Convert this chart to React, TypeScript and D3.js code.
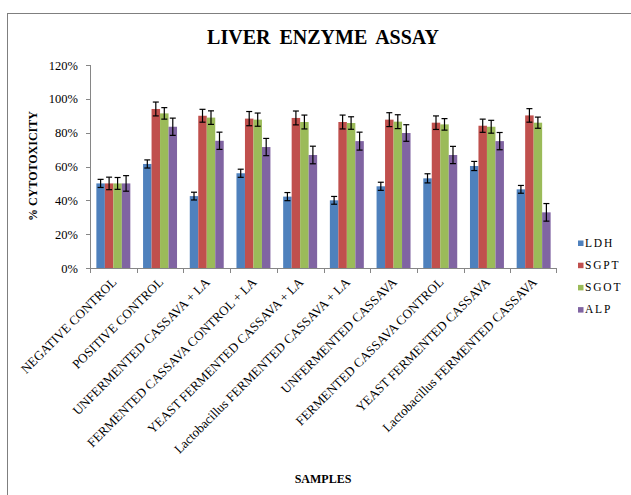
import React from "react";
import * as d3 from "d3";

const categories = [
  "NEGATIVE CONTROL",
  "POSITIVE CONTROL",
  "UNFERMENTED CASSAVA + LA",
  "FERMENTED CASSAVA CONTROL + LA",
  "YEAST FERMENTED CASSAVA + LA",
  "Lactobacillus FERMENTED CASSAVA + LA",
  "UNFERMENTED CASSAVA",
  "FERMENTED CASSAVA CONTROL",
  "YEAST FERMENTED CASSAVA",
  "Lactobacillus FERMENTED CASSAVA",
];

const seriesNames = ["LDH", "SGPT", "SGOT", "ALP"];
const seriesColors = ["#4F81BD", "#C0504D", "#9BBB59", "#8064A2"];

const LDH = [50, 61.5, 42.5, 56, 42.2, 40, 48.3, 53, 60.3, 46.5];
const SGPT = [50, 94, 90, 88.3, 88.7, 86.3, 87.7, 85.9, 84.1, 90.2];
const SGOT = [50, 91.4, 88.9, 87.7, 86.3, 85.7, 86.5, 84.9, 83.5, 85.9];
const ALP = [50, 83.5, 75.2, 71.5, 66.8, 75, 79.8, 66.8, 75, 32.9];

const LDH_err = [2.4, 2.4, 2.3, 2.4, 2.4, 2.3, 2.4, 2.7, 2.7, 2.3];
const SGPT_err = [3.7, 4.1, 3.8, 4.2, 4.1, 4.1, 4.1, 4.0, 3.9, 4.0];
const SGOT_err = [3.5, 3.4, 4.0, 3.9, 4.1, 3.7, 4.1, 3.4, 3.8, 3.3];
const ALP_err = [4.6, 5.1, 5.1, 5.1, 5.2, 5.3, 4.9, 5.1, 5.1, 5.2];

const yTicks = [0, 20, 40, 60, 80, 100, 120];

const seriesValues = [LDH, SGPT, SGOT, ALP];
const seriesErrors = [LDH_err, SGPT_err, SGOT_err, ALP_err];

const FONT = "'Liberation Serif', 'Times New Roman', serif";

export default function App() {
  const left = 90;
  const right = 557;
  const top = 65;
  const bottom = 268;

  const x = d3.scaleBand<string>().domain(categories).range([left, right]).padding(0);
  const step = x.bandwidth();
  const groupW = (step * 4) / 5.5;
  const xs = d3
    .scaleBand<string>()
    .domain(seriesNames)
    .range([(step - groupW) / 2, (step + groupW) / 2])
    .padding(0);
  const y = d3.scaleLinear().domain([0, 120]).range([bottom, top]);
  const axisColor = "#868686";

  return (
    <svg
      width={631}
      height={495}
      style={{ position: "absolute", left: 0, top: 0, background: "#fff" }}
      fontFamily={FONT}
    >
      <rect x={7.5} y={13.5} width={700} height={600} fill="#fff" stroke="#7f7f7f" strokeWidth={1} />

      <text
        x={323}
        y={44}
        textAnchor="middle"
        fontSize={20}
        fontWeight="bold"
        wordSpacing={4}
        fill="#000"
      >
        LIVER ENZYME ASSAY
      </text>

      {/* bars */}
      {categories.map((c, i) => (
        <g key={c} transform={`translate(${x(c)},0)`}>
          {seriesNames.map((s, j) => {
            const v = seriesValues[j][i];
            return (
              <rect
                key={s}
                x={xs(s)}
                y={y(v)}
                width={xs.bandwidth()}
                height={y(0) - y(v)}
                fill={seriesColors[j]}
              />
            );
          })}
          {seriesNames.map((s, j) => {
            const v = seriesValues[j][i];
            const e = seriesErrors[j][i];
            const cx = (xs(s) as number) + xs.bandwidth() / 2;
            return (
              <g key={s + "e"} stroke="#000" strokeWidth={1.2}>
                <line x1={cx} x2={cx} y1={y(v + e)} y2={y(v - e)} />
                <line x1={cx - 3} x2={cx + 3} y1={y(v + e)} y2={y(v + e)} />
                <line x1={cx - 3} x2={cx + 3} y1={y(v - e)} y2={y(v - e)} />
              </g>
            );
          })}
        </g>
      ))}

      {/* y axis */}
      <line x1={left + 0.5} x2={left + 0.5} y1={top} y2={bottom} stroke={axisColor} />
      {yTicks.map((t) => (
        <g key={t}>
          <line x1={left - 4} x2={left} y1={Math.round(y(t)) + 0.5} y2={Math.round(y(t)) + 0.5} stroke={axisColor} />
          <text x={78} y={y(t) + 4.5} textAnchor="end" fontSize={12.5} fill="#000">
            {t}%
          </text>
        </g>
      ))}

      {/* x axis */}
      <line x1={left} x2={right} y1={bottom + 0.5} y2={bottom + 0.5} stroke={axisColor} />
      {categories.map((c) => (
        <line
          key={c + "t"}
          x1={Math.round(x(c) as number) + 0.5}
          x2={Math.round(x(c) as number) + 0.5}
          y1={bottom}
          y2={bottom + 5}
          stroke={axisColor}
        />
      ))}
      <line x1={right - 0.5} x2={right - 0.5} y1={bottom} y2={bottom + 5} stroke={axisColor} />

      {categories.map((c) => {
        const cx = (x(c) as number) + step / 2;
        return (
          <text
            key={c + "l"}
            transform={`translate(${cx + 4},283) rotate(-45)`}
            textAnchor="end"
            fontSize={13}
            fill="#000"
          >
            {c}
          </text>
        );
      })}

      <text
        transform="translate(37,166) rotate(-90)"
        textAnchor="middle"
        fontSize={12}
        fontWeight="bold"
        fill="#000"
      >
        % CYTOTOXICITY
      </text>

      <text x={323} y={482.5} textAnchor="middle" fontSize={12} fontWeight="bold" fill="#000">
        SAMPLES
      </text>

      {/* legend */}
      {seriesNames.map((s, j) => (
        <g key={s + "lg"} transform={`translate(578,${246.5 + j * 22.2})`}>
          <rect x={0} y={-6} width={5.5} height={5.5} fill={seriesColors[j]} />
          <text x={7} y={0} fontSize={11.5} letterSpacing={1.8} fill="#000">
            {s}
          </text>
        </g>
      ))}
    </svg>
  );
}
